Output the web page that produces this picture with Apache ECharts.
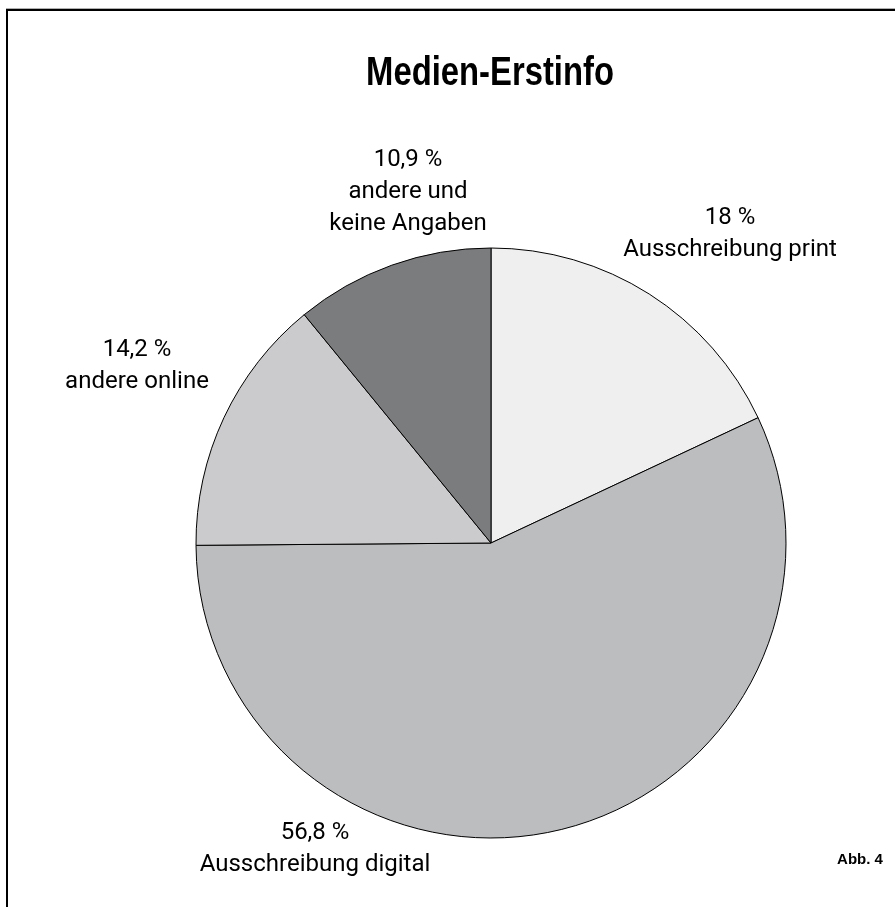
<!DOCTYPE html>
<html>
<head>
<meta charset="utf-8">
<script src="https://cdn.jsdelivr.net/npm/echarts@6/dist/echarts.min.js"></script>
<style>html,body{margin:0;padding:0;background:#fff}#c{width:895px;height:907px}</style>
</head>
<body>
<div id="c"></div>
<script>
const title = 'Medien-Erstinfo';
const categories = ['Ausschreibung print', 'Ausschreibung digital', 'andere online', 'andere und\nkeine Angaben'];
const values = [18, 56.8, 14.2, 10.9];
const colors = ['#eeefee', '#bcbdbf', '#cbcbcd', '#7b7c7e'];
const labelPos = [[730, 234], [315, 849], [137, 366], [408, 192]];
const footnote = 'Abb. 4';

const chart = echarts.init(document.getElementById('c'), null, {renderer: 'canvas'});
chart.setOption({
  animation: false,
  backgroundColor: '#fff',
  graphic: [
    {type: 'rect', shape: {x: 6, y: 8, width: 889, height: 1}, style: {fill: '#b0b0b0'}, silent: true},
    {type: 'rect', shape: {x: 6, y: 9, width: 889, height: 2}, style: {fill: '#000'}, silent: true},
    {type: 'rect', shape: {x: 6, y: 9, width: 2, height: 898}, style: {fill: '#000'}, silent: true},
    {type: 'text', x: 490, y: 74, scaleX: 0.8, style: {text: title, align: 'center', verticalAlign: 'middle', font: 'bold 41px "Liberation Sans"', fill: '#000'}},
    {type: 'text', x: 860, y: 860, style: {text: footnote, align: 'center', verticalAlign: 'middle', font: 'bold 15px "Liberation Sans"', fill: '#000'}}
  ],
  series: [{
    type: 'pie',
    center: [491, 543],
    radius: 295,
    startAngle: 90,
    clockwise: true,
    label: {
      show: true,
      position: 'outside',
      fontFamily: 'Roboto',
      fontSize: 24,
      lineHeight: 32,
      color: '#000',
      align: 'center',
      overflow: 'none',
      formatter: p => String(p.value).replace('.', ',') + ' %\n' + p.name
    },
    labelLine: {show: false},
    labelLayout: p => ({x: labelPos[p.dataIndex][0], y: labelPos[p.dataIndex][1], align: 'center', verticalAlign: 'middle', width: 400}),
    itemStyle: {borderColor: '#000', borderWidth: 1},
    emphasis: {disabled: true},
    data: categories.map((n, i) => ({name: n, value: values[i], itemStyle: {color: colors[i]}}))
  }]
});
</script>
</body>
</html>
